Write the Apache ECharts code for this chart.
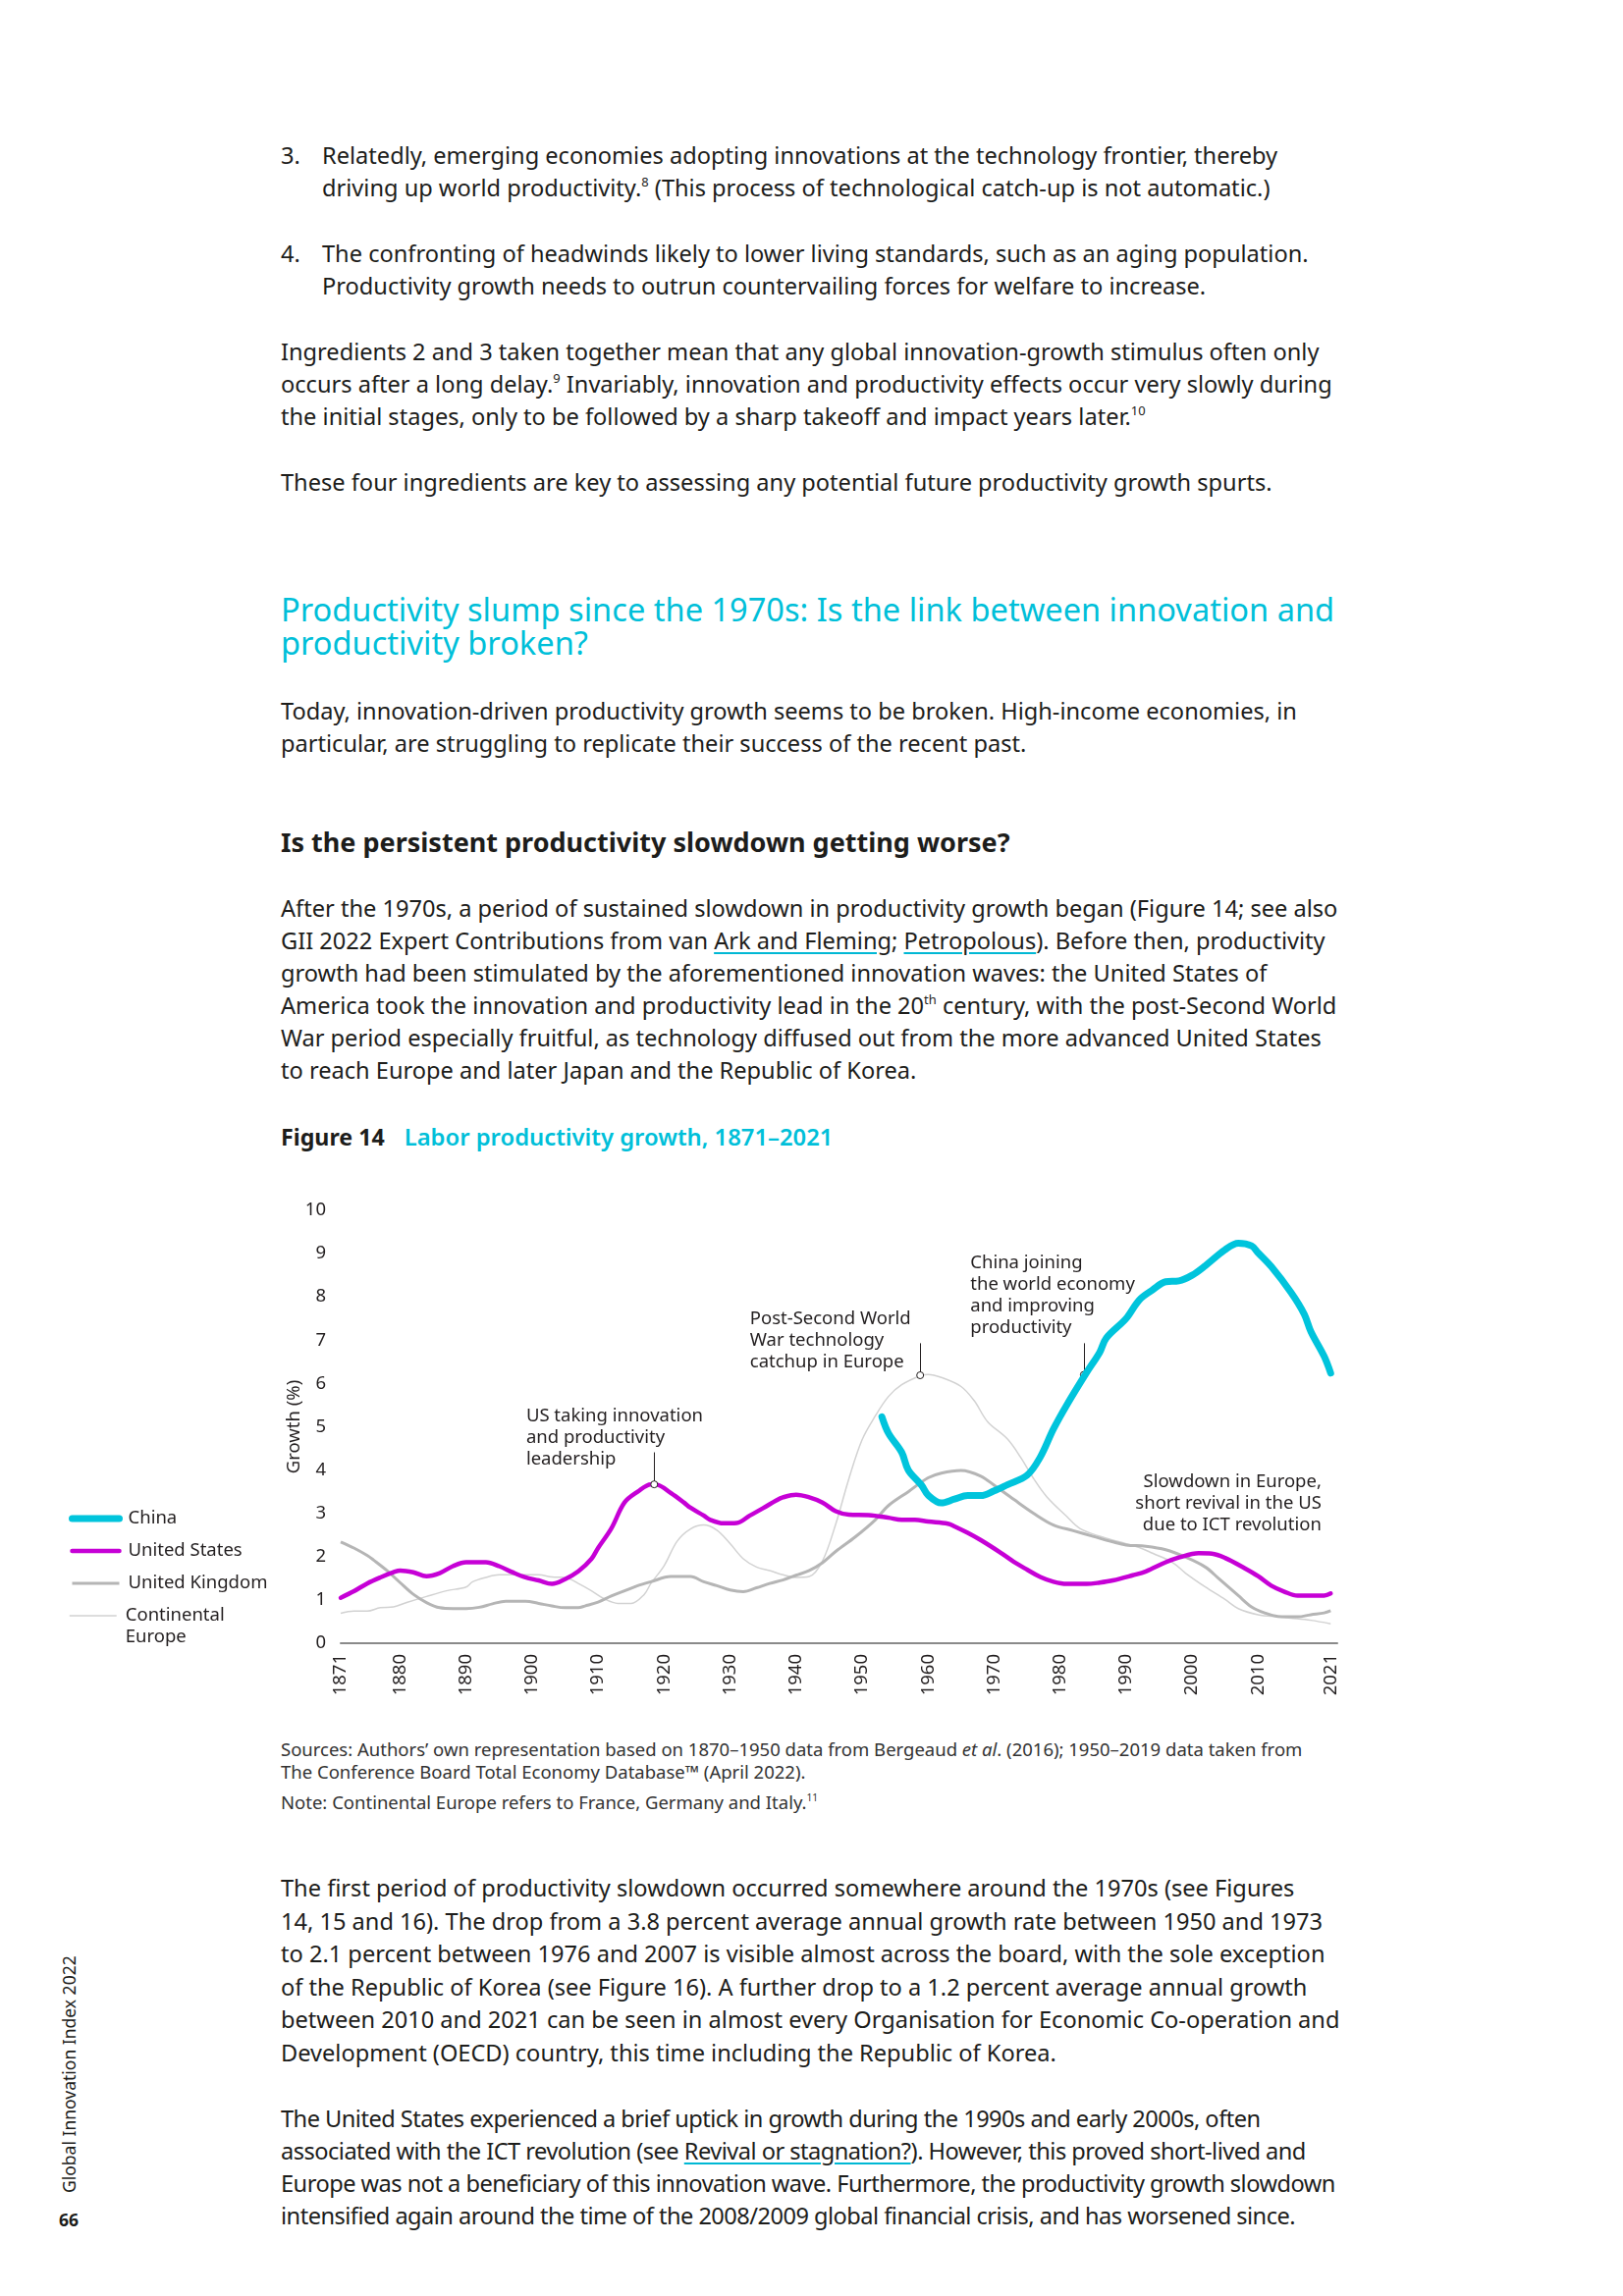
<!DOCTYPE html>
<html>
<head>
<meta charset="utf-8">
<script src="https://cdn.jsdelivr.net/npm/echarts@6/dist/echarts.min.js"></script>
<style>
  html, body { margin:0; padding:0; background:#fff; }
  #page { position:relative; width:1653px; height:2339px; overflow:hidden; background:#fff; font-family:"Noto Sans", sans-serif; color:#1d1d1b; }
  .t { position:absolute; left:286px; font-size:23.6px; line-height:33px; white-space:nowrap; }
  .li { position:absolute; left:286px; font-size:23.6px; line-height:33px; white-space:nowrap; }
  .li .n { position:absolute; left:0; top:0; }
  .li .b { position:absolute; left:42px; top:0; }
  sup { font-size:0.55em; line-height:0; vertical-align:0.75em; }
  .u { text-decoration:underline; text-decoration-color:#00b8d4; text-underline-offset:3px; }
  .h2 { position:absolute; left:286px; font-size:32.6px; line-height:34px; color:#00bfd9; white-space:nowrap; }
  .h3 { position:absolute; left:286px; font-size:27px; line-height:32px; font-weight:700; white-space:nowrap; }
  .fig { position:absolute; left:286px; font-size:23.2px; line-height:28px; font-weight:700; white-space:nowrap; }
  .fig .c { color:#00bfd9; margin-left:20px; font-weight:600; font-size:23.8px; }
  .src { position:absolute; left:286px; font-size:18.5px; line-height:23px; color:#333; white-space:nowrap; }
  #side { position:absolute; left:58px; top:1990px; height:244px; width:24px; writing-mode:vertical-rl; transform:rotate(180deg); font-size:17.5px; line-height:24px; text-align:left; white-space:nowrap; }
  #pnum { position:absolute; left:60px; top:2249px; font-size:17.5px; font-weight:700; line-height:24px; }
  #chart { position:absolute; left:0; top:1200px; width:1400px; height:560px; }
</style>
</head>
<body>
<div id="page">
  <div class="li" style="top:141.5px;"><span class="n">3.</span><span class="b">Relatedly, emerging economies adopting innovations at the technology frontier, thereby<br>driving up world productivity.<sup>8</sup> (This process of technological catch-up is not automatic.)</span></div>
  <div class="li" style="top:241.5px;"><span class="n">4.</span><span class="b">The confronting of headwinds likely to lower living standards, such as an aging population.<br>Productivity growth needs to outrun countervailing forces for welfare to increase.</span></div>
  <div class="t" style="top:341.5px;">Ingredients 2 and 3 taken together mean that any global innovation-growth stimulus often only<br>occurs after a long delay.<sup>9</sup> Invariably, innovation and productivity effects occur very slowly during<br>the initial stages, only to be followed by a sharp takeoff and impact years later.<sup>10</sup></div>
  <div class="t" style="top:474.5px;">These four ingredients are key to assessing any potential future productivity growth spurts.</div>
  <div class="h2" style="top:604px;">Productivity slump since the 1970s: Is the link between innovation and<br>productivity broken?</div>
  <div class="t" style="top:707.5px;">Today, innovation-driven productivity growth seems to be broken. High-income economies, in<br>particular, are struggling to replicate their success of the recent past.</div>
  <div class="h3" style="top:842px;">Is the persistent productivity slowdown getting worse?</div>
  <div class="t" style="top:908.5px;">After the 1970s, a period of sustained slowdown in productivity growth began (Figure 14; see also<br>GII 2022 Expert Contributions from van <span class="u">Ark and Fleming</span>; <span class="u">Petropolous</span>). Before then, productivity<br>growth had been stimulated by the aforementioned innovation waves: the United States of<br>America took the innovation and productivity lead in the 20<sup>th</sup> century, with the post-Second World<br>War period especially fruitful, as technology diffused out from the more advanced United States<br>to reach Europe and later Japan and the Republic of Korea.</div>
  <div class="fig" style="top:1144px;">Figure 14<span class="c">Labor productivity growth, 1871–2021</span></div>
  <div id="chart"></div>
  <div class="src" style="top:1769.5px;">Sources: Authors’ own representation based on 1870–1950 data from Bergeaud <i>et al</i>. (2016); 1950–2019 data taken from<br>The Conference Board Total Economy Database™ (April 2022).</div>
  <div class="src" style="top:1823.5px;">Note: Continental Europe refers to France, Germany and Italy.<sup>11</sup></div>
  <div class="t" style="top:1907px;line-height:33.6px;">The first period of productivity slowdown occurred somewhere around the 1970s (see Figures<br>14, 15 and 16). The drop from a 3.8 percent average annual growth rate between 1950 and 1973<br>to 2.1 percent between 1976 and 2007 is visible almost across the board, with the sole exception<br>of the Republic of Korea (see Figure 16). A further drop to a 1.2 percent average annual growth<br>between 2010 and 2021 can be seen in almost every Organisation for Economic Co-operation and<br>Development (OECD) country, this time including the Republic of Korea.</div>
  <div class="t" style="top:2142px;letter-spacing:-0.52px;">The United States experienced a brief uptick in growth during the 1990s and early 2000s, often<br>associated with the ICT revolution (see <span class="u">Revival or stagnation?</span>). However, this proved short-lived and<br>Europe was not a beneficiary of this innovation wave. Furthermore, the productivity growth slowdown<br>intensified again around the time of the 2008/2009 global financial crisis, and has worsened since.</div>
  <div id="side">Global Innovation Index 2022</div>
  <div id="pnum">66</div>
</div>
<script>
// ---------- data (year, growth %) ----------
const seriesNames = ['China', 'United States', 'United Kingdom', 'Continental Europe'];

const chinaData = [[1953,5.23],[1954,4.85],[1956,4.41],[1957,4.0],[1959,3.65],[1960,3.42],[1962,3.24],[1964,3.33],[1966,3.41],[1968,3.41],[1970,3.52],[1972,3.66],[1975,3.88],[1977,4.3],[1979,4.95],[1981,5.5],[1984,6.25],[1986,6.72],[1987,7.05],[1990,7.5],[1992,7.93],[1994,8.16],[1996,8.35],[1998,8.37],[2000,8.5],[2002,8.72],[2005,9.09],[2007,9.24],[2009,9.18],[2010,9.02],[2012,8.7],[2015,8.1],[2017,7.6],[2018,7.2],[2020,6.63],[2021,6.24]];

const usData = [[1871,1.05],[1873,1.2],[1875,1.38],[1877,1.52],[1879,1.64],[1880,1.68],[1882,1.64],[1884,1.55],[1886,1.62],[1888,1.78],[1890,1.87],[1893,1.87],[1895,1.78],[1897,1.64],[1899,1.52],[1901,1.45],[1903,1.37],[1905,1.48],[1907,1.66],[1909,1.95],[1910,2.2],[1912,2.65],[1914,3.25],[1916,3.5],[1918,3.67],[1919,3.66],[1921,3.47],[1923,3.25],[1924,3.13],[1926,2.95],[1927,2.85],[1929,2.77],[1931,2.78],[1933,2.95],[1935,3.12],[1937,3.3],[1938,3.37],[1940,3.43],[1942,3.37],[1944,3.25],[1946,3.05],[1948,2.97],[1951,2.96],[1954,2.9],[1956,2.85],[1958,2.85],[1960,2.81],[1963,2.76],[1964,2.7],[1966,2.55],[1968,2.38],[1971,2.09],[1973,1.88],[1975,1.7],[1977,1.53],[1979,1.42],[1981,1.37],[1984,1.37],[1986,1.4],[1988,1.45],[1991,1.57],[1993,1.66],[1996,1.87],[1998,1.98],[2001,2.08],[2003,2.07],[2005,1.97],[2008,1.73],[2010,1.55],[2012,1.33],[2014,1.19],[2016,1.1],[2018,1.1],[2020,1.1],[2021,1.15]];

const ukData = [[1871,2.34],[1873,2.2],[1875,2.03],[1876,1.92],[1878,1.68],[1880,1.4],[1882,1.13],[1884,0.94],[1886,0.82],[1888,0.8],[1890,0.8],[1892,0.83],[1894,0.91],[1896,0.97],[1899,0.97],[1901,0.92],[1903,0.86],[1905,0.82],[1907,0.82],[1908,0.86],[1910,0.95],[1912,1.09],[1914,1.21],[1916,1.33],[1918,1.42],[1921,1.54],[1924,1.54],[1926,1.42],[1928,1.33],[1930,1.23],[1932,1.19],[1934,1.28],[1936,1.38],[1938,1.46],[1940,1.57],[1942,1.68],[1944,1.86],[1946,2.12],[1949,2.46],[1952,2.85],[1954,3.18],[1957,3.5],[1960,3.82],[1962,3.93],[1965,3.99],[1968,3.86],[1970,3.65],[1973,3.32],[1976,3.0],[1979,2.73],[1982,2.6],[1985,2.47],[1988,2.34],[1990,2.27],[1993,2.24],[1996,2.16],[1999,1.99],[2002,1.76],[2004,1.5],[2007,1.1],[2009,0.84],[2011,0.7],[2013,0.62],[2016,0.61],[2018,0.66],[2020,0.7],[2021,0.75]];

const ceData = [[1871,0.69],[1873,0.74],[1875,0.74],[1877,0.82],[1879,0.84],[1881,0.94],[1884,1.08],[1887,1.21],[1890,1.3],[1891,1.42],[1893,1.52],[1895,1.58],[1898,1.58],[1901,1.58],[1903,1.53],[1905,1.52],[1907,1.38],[1909,1.21],[1911,1.02],[1913,0.92],[1915,0.92],[1917,1.13],[1918,1.38],[1920,1.79],[1922,2.36],[1924,2.64],[1926,2.73],[1928,2.61],[1930,2.3],[1932,1.95],[1934,1.76],[1936,1.68],[1938,1.58],[1940,1.52],[1942,1.54],[1944,1.9],[1946,2.75],[1948,3.8],[1950,4.7],[1952,5.25],[1954,5.7],[1956,5.97],[1959,6.19],[1960,6.21],[1962,6.14],[1965,5.93],[1967,5.6],[1969,5.12],[1972,4.72],[1974,4.3],[1976,3.8],[1978,3.38],[1981,2.93],[1983,2.65],[1986,2.47],[1989,2.34],[1992,2.21],[1994,2.08],[1997,1.87],[1999,1.62],[2002,1.3],[2005,1.01],[2007,0.8],[2010,0.66],[2013,0.61],[2015,0.58],[2018,0.53],[2021,0.45]];

const xTickLabels = [1871,1880,1890,1900,1910,1920,1930,1940,1950,1960,1970,1980,1990,2000,2010,2021];
const yTicks = [0,1,2,3,4,5,6,7,8,9,10];

// annotation anchors: [year, value] of the first text line
const annotations = [
  { lines: ['US taking innovation', 'and productivity', 'leadership'], at: [1899.1, 5.24], align: 'left' },
  { lines: ['Post-Second World', 'War technology', 'catchup in Europe'], at: [1933.0, 7.5], align: 'left' },
  { lines: ['China joining', 'the world economy', 'and improving', 'productivity'], at: [1966.4, 8.78], align: 'left' },
  { lines: ['Slowdown in Europe,', 'short revival in the US', 'due to ICT revolution'], at: [2019.6, 3.72], align: 'right' }
];
// leaders: [year, top value, point value]
const usLeader = [1918.5, 4.41, 3.67];
const ceLeader = [1958.8, 6.93, 6.19];
const chinaLeader = [1983.6, 6.93, 6.2];

// ---------- styles ----------
const COL = { china:'#00c4dc', us:'#c600d6', uk:'#b5b5b5', ce:'#d2d2d2', text:'#231f20' };
const FONT = '"Noto Sans", sans-serif';

function leader(l) {
  return {
    markLine: {
      silent: true, symbol: ['none','none'], animation: false,
      lineStyle: { color: COL.text, width: 1, type: 'solid' },
      label: { show: false },
      data: [[{ coord: [l[0], l[1]] }, { coord: [l[0], l[2]] }]]
    },
    markPoint: {
      silent: true, symbol: 'circle', symbolSize: 7, animation: false,
      itemStyle: { color: '#fff', borderColor: COL.text, borderWidth: 1 },
      label: { show: false },
      data: [{ coord: [l[0], l[2]] }]
    }
  };
}

const chart = echarts.init(document.getElementById('chart'), null, { renderer: 'canvas' });

const option = {
  animation: false,
  textStyle: { fontFamily: FONT, color: COL.text },
  grid: { left: 347, right: 38, top: 33, bottom: 86, containLabel: false },
  legend: [
    {
      orient: 'vertical', left: 70, top: 336, padding: 0,
      itemWidth: 48, itemHeight: 14, itemGap: 11,
      textStyle: { fontSize: 18.5, lineHeight: 22, color: COL.text, padding: [0,0,0,4], fontFamily: FONT },
      itemStyle: { opacity: 0 },
      data: [
        { name: 'China', lineStyle: { width: 7, cap: 'round', color: COL.china } },
        { name: 'United States', lineStyle: { width: 4.5, cap: 'round', color: COL.us } },
        { name: 'United Kingdom', lineStyle: { width: 3, color: COL.uk } }
      ]
    },
    {
      orient: 'vertical', left: 70, top: 413, padding: 0,
      itemWidth: 48, itemHeight: 14,
      textStyle: { fontSize: 18.5, lineHeight: 22, color: COL.text, padding: [0,0,0,4], fontFamily: FONT },
      itemStyle: { opacity: 0 },
      formatter: function (n) { return n === 'Continental Europe' ? ' \nContinental\nEurope' : n; },
      data: [ { name: 'Continental Europe', lineStyle: { width: 1.5, color: COL.ce } } ]
    }
  ],
  xAxis: {
    type: 'value', min: 1871, max: 2022,
    splitLine: { show: false },
    axisTick: { show: false },
    axisLine: { show: true, lineStyle: { color: '#8a8a8a', width: 2 } },
    axisLabel: {
      customValues: xTickLabels, rotate: 90, margin: 11,
      fontSize: 18.5, color: COL.text, fontFamily: FONT,
      formatter: function (v) { return String(v); }
    }
  },
  yAxis: {
    type: 'value', min: 0, max: 10, interval: 1,
    splitLine: { show: false }, axisTick: { show: false }, axisLine: { show: false },
    axisLabel: { fontSize: 18.5, color: COL.text, margin: 15, fontFamily: FONT,
      customValues: yTicks },
    name: 'Growth (%)', nameLocation: 'middle', nameRotate: 90, nameGap: 38, nameMoveOverlap: false,
    nameTextStyle: { fontSize: 18.5, color: COL.text, fontFamily: FONT }
  },
  series: [
    Object.assign({ name: 'Continental Europe', type: 'line', data: ceData, smooth: 0.35, symbol: 'none', showSymbol: false,
      lineStyle: { color: COL.ce, width: 1.5 }, itemStyle: { color: COL.ce }, z: 2 }, leader(ceLeader)),
    { name: 'United Kingdom', type: 'line', data: ukData, smooth: 0.35, symbol: 'none', showSymbol: false,
      lineStyle: { color: COL.uk, width: 3 }, itemStyle: { color: COL.uk }, z: 3 },
    Object.assign({ name: 'United States', type: 'line', data: usData, smooth: 0.35, symbol: 'none', showSymbol: false,
      lineStyle: { color: COL.us, width: 4.5, cap: 'round' }, itemStyle: { color: COL.us }, z: 4 }, leader(usLeader)),
    Object.assign({ name: 'China', type: 'line', data: chinaData, smooth: 0.35, symbol: 'none', showSymbol: false,
      lineStyle: { color: COL.china, width: 7, cap: 'round', join: 'round' }, itemStyle: { color: COL.china }, z: 5 }, leader(chinaLeader))
  ]
};
chart.setOption(option);

// annotation texts, placed through the chart's own scales
const graphics = annotations.map(function (a) {
  const p = chart.convertToPixel({ gridIndex: 0 }, a.at);
  return {
    type: 'text', silent: true, z: 10,
    x: p[0], y: p[1] - 11,
    style: { text: a.lines.join('\n'), font: '18.5px ' + FONT, lineHeight: 22,
      fill: COL.text, align: a.align, verticalAlign: 'top' }
  };
});
chart.setOption({ graphic: graphics });
</script>
</body>
</html>
